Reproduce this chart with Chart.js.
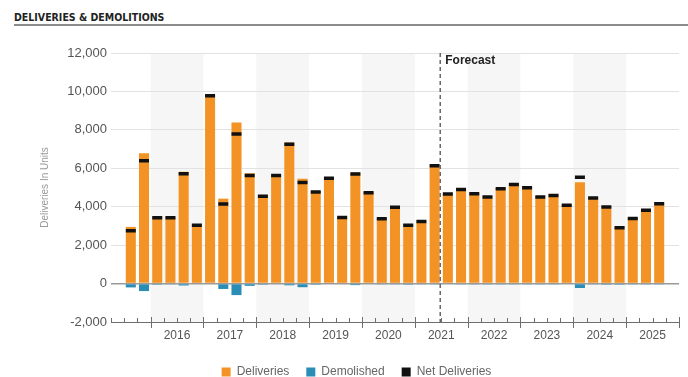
<!DOCTYPE html>
<html>

<head>
    <meta charset="utf-8">
    <script src="https://cdn.jsdelivr.net/npm/chart.js"></script>
    <style>
        body {
            margin: 0;
            background: #fff;
            overflow: hidden;
        }

        .titulo {
            position: absolute;
            left: 14px;
            top: 0;
            width: 674px;
            height: 26px;
            border-bottom: 2px solid #8c8c8c;
            box-sizing: border-box;
            padding-top: 11px;
            font: bold 10.5px "Liberation Sans Narrow", "DejaVu Sans Condensed", "Liberation Sans", sans-serif;
            color: #222;
        }

        .grafico {
            position: absolute;
            left: 0;
            top: 30px;
            width: 688px;
            height: 358px;
        }
    </style>
    <title>Deliveries & Demolitions</title>
</head>

<body>
    <div class="titulo">DELIVERIES &amp; DEMOLITIONS</div>
    <div class="grafico">
        <canvas id="myChart"></canvas>
    </div>

    <script>
        // trimestres do eixo (o primeiro e o último ficam vazios)
        const trimestres = [
            '2015 Q2', '2015 Q3', '2015 Q4',
            '2016 Q1', '2016 Q2', '2016 Q3', '2016 Q4',
            '2017 Q1', '2017 Q2', '2017 Q3', '2017 Q4',
            '2018 Q1', '2018 Q2', '2018 Q3', '2018 Q4',
            '2019 Q1', '2019 Q2', '2019 Q3', '2019 Q4',
            '2020 Q1', '2020 Q2', '2020 Q3', '2020 Q4',
            '2021 Q1', '2021 Q2', '2021 Q3', '2021 Q4',
            '2022 Q1', '2022 Q2', '2022 Q3', '2022 Q4',
            '2023 Q1', '2023 Q2', '2023 Q3', '2023 Q4',
            '2024 Q1', '2024 Q2', '2024 Q3', '2024 Q4',
            '2025 Q1', '2025 Q2', '2025 Q3', '2025 Q4'
        ];

        const anos = ['2016', '2017', '2018', '2019', '2020', '2021', '2022', '2023', '2024', '2025'];

        const entregas = [null,
            2950, 6780, 3480, 3480, 5820, 3080, 9820, 4420, 8380, 5740, 4600, 5660,
            7340, 5450, 4820, 5520, 3480, 5780, 4770, 3400, 4000, 3100, 3260, 6160,
            4700, 4930, 4720, 4550, 4990, 5210, 5040, 4550, 4640, 4120, 5270, 4500,
            4040, 2960, 3440, 3870, 4200, null];

        const demolidos = [null,
            -200, -390, -60, -30, -100, -40, -40, -280, -600, -120, -60, -40,
            -90, -190, -60, -40, -40, -80, -40, -30, -30, -60, -30, -30,
            -40, -30, -50, -50, -50, -50, -50, -50, -50, -40, -230, -50,
            -60, -60, -50, -50, -50, null];

        const liquidas = [null,
            2750, 6390, 3420, 3430, 5720, 3040, 9780, 4140, 7780, 5620, 4540, 5620,
            7250, 5260, 4760, 5480, 3440, 5700, 4730, 3370, 3970, 3040, 3230, 6130,
            4660, 4900, 4670, 4500, 4940, 5160, 4990, 4500, 4590, 4080, 5530, 4450,
            3980, 2900, 3390, 3820, 4150, null];

        const inicioPrevisao = '2021 Q3';

        // faixas dos anos, marcas do eixo x, rótulos dos anos e linha da previsão
        const eixoAnos = {
            id: 'eixoAnos',
            beforeDraw(chart) {
                const { ctx, chartArea, scales: { x } } = chart;
                const passo = x.getPixelForValue(1) - x.getPixelForValue(0);
                ctx.save();
                ctx.fillStyle = '#f6f6f6';
                anos.forEach((ano, i) => {
                    if (i % 2 !== 0) return;
                    const idx = trimestres.indexOf(ano + ' Q1');
                    const esq = x.getPixelForValue(idx) - passo / 2;
                    ctx.fillRect(esq, chartArea.top, passo * 4, chartArea.bottom - chartArea.top);
                });
                ctx.restore();
            },
            afterDraw(chart) {
                const { ctx, chartArea, scales: { x } } = chart;
                const passo = x.getPixelForValue(1) - x.getPixelForValue(0);
                const base = chartArea.bottom;
                const x0 = x.getPixelForValue(0) - passo / 2;

                ctx.save();
                ctx.strokeStyle = '#6f6f6f';
                ctx.lineWidth = 1;
                ctx.beginPath();
                ctx.moveTo(x0, base + 0.5);
                ctx.lineTo(x0 + passo * trimestres.length, base + 0.5);
                for (let i = 0; i <= trimestres.length; i++) {
                    const px = Math.round(x0 + passo * i) + 0.5;
                    const rotulo = trimestres[i] || '';
                    const maior = rotulo.endsWith('Q1') || i === trimestres.length;
                    ctx.moveTo(px, base - (maior ? 5 : 4));
                    ctx.lineTo(px, base + (maior ? 6 : 0));
                }
                ctx.stroke();

                ctx.fillStyle = '#555';
                ctx.font = '12px "Liberation Sans", Arial, sans-serif';
                ctx.textAlign = 'center';
                ctx.textBaseline = 'middle';
                anos.forEach(ano => {
                    const idx = trimestres.indexOf(ano + ' Q1');
                    const meio = x.getPixelForValue(idx) - passo / 2 + passo * 2;
                    ctx.fillText(ano, meio, base + 14);
                });

                // linha tracejada da previsão
                const ip = trimestres.indexOf(inicioPrevisao);
                const xp = (x.getPixelForValue(ip) + x.getPixelForValue(ip - 1)) / 2 - 1;
                ctx.strokeStyle = '#666';
                ctx.lineWidth = 1.5;
                ctx.setLineDash([4, 3]);
                ctx.beginPath();
                ctx.moveTo(xp, chartArea.top);
                ctx.lineTo(xp, base);
                ctx.stroke();
                ctx.setLineDash([]);

                ctx.fillStyle = '#222';
                ctx.font = 'bold 12px "Liberation Sans", Arial, sans-serif';
                ctx.textAlign = 'left';
                ctx.fillText('Forecast', xp + 5, chartArea.top + 8);
                ctx.restore();
            }
        };

        const ctx = document.getElementById('myChart').getContext('2d');

        const myChart = new Chart(ctx, {
            data: {
                labels: trimestres,
                datasets: [{
                    type: 'bar',
                    label: 'Deliveries',
                    data: entregas,
                    backgroundColor: '#f39325',
                    grouped: false,
                    categoryPercentage: 1,
                    barPercentage: 0.76,
                    order: 2
                }, {
                    type: 'bar',
                    label: 'Demolished',
                    data: demolidos,
                    backgroundColor: '#2a8db5',
                    grouped: false,
                    categoryPercentage: 1,
                    barPercentage: 0.76,
                    order: 1
                }, {
                    type: 'line',
                    label: 'Net Deliveries',
                    data: liquidas,
                    showLine: false,
                    backgroundColor: '#111',
                    borderColor: '#111',
                    borderWidth: 0,
                    pointStyle: 'line',
                    pointRadius: 5,
                    pointBorderWidth: 3.5,
                    pointBorderColor: '#111',
                    order: 0
                }]
            },
            options: {
                responsive: true,
                maintainAspectRatio: false,
                animation: false,
                events: [],
                layout: {
                    padding: { top: 23, right: 9, left: 34, bottom: 0 }
                },
                scales: {
                    x: {
                        grid: { display: false },
                        border: { display: false },
                        ticks: { display: false },
                        afterFit(scale) { scale.height = 27; }
                    },
                    y: {
                        min: -2000,
                        max: 12000,
                        border: { display: false },
                        grid: {
                            drawTicks: false,
                            color: c => c.tick.value === 0 ? '#9a9a9a' : (c.tick.value === -2000 ? 'rgba(0,0,0,0)' : '#e2e2e2'),
                            lineWidth: c => c.tick.value === 0 ? 1.5 : 1
                        },
                        ticks: {
                            stepSize: 2000,
                            padding: 4,
                            color: '#555',
                            font: { family: '"Liberation Sans", Arial, sans-serif', size: 13 },
                            callback: v => v.toLocaleString('en-US')
                        },
                        title: {
                            display: true,
                            text: 'Deliveries In Units',
                            color: '#999',
                            font: { family: '"Liberation Sans", Arial, sans-serif', size: 10 },
                            padding: { top: 5, bottom: 0 }
                        },
                        afterFit(scale) { scale.width = 77; }
                    }
                },
                plugins: {
                    tooltip: { enabled: false },
                    legend: {
                        position: 'bottom',
                        labels: {
                            boxWidth: 9,
                            boxHeight: 9,
                            padding: 17,
                            color: '#666',
                            font: { family: '"Liberation Sans", Arial, sans-serif', size: 12 },
                            sort: (a, b) => a.datasetIndex - b.datasetIndex
                        }
                    }
                }
            },
            plugins: [eixoAnos]
        });
    </script>
</body>

</html>
